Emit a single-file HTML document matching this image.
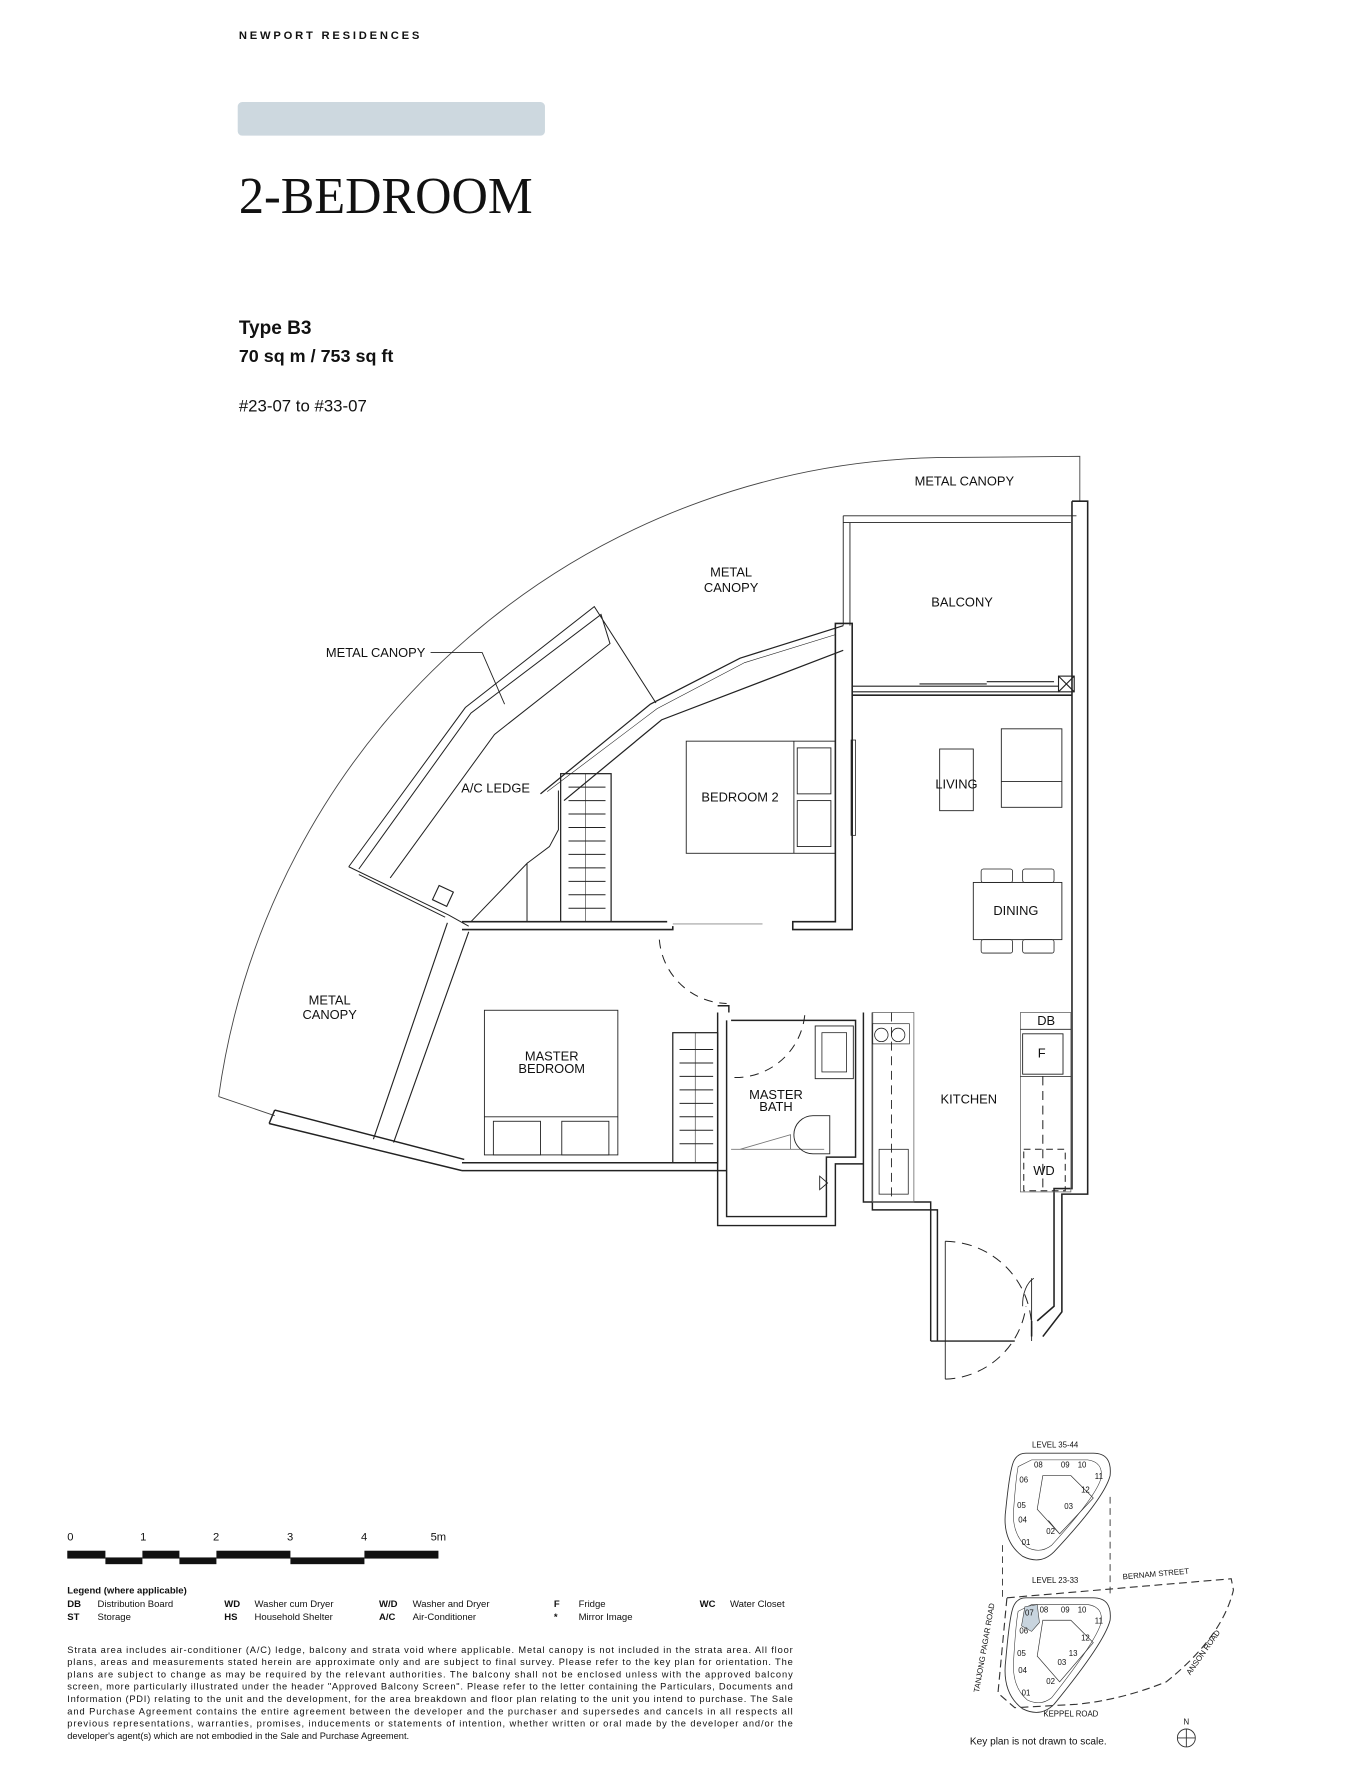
<!DOCTYPE html>
<html><head><meta charset="utf-8"><style>
html,body{margin:0;padding:0;background:#fff;}
svg{display:block;}
text{font-family:"Liberation Sans",sans-serif;fill:#111;}
</style></head><body>
<svg width="1368" height="1766" viewBox="0 0 1220 1575" preserveAspectRatio="none" xmlns="http://www.w3.org/2000/svg">
<text x="213" y="35" font-size="10" font-weight="bold" letter-spacing="2" textLength="163">NEWPORT RESIDENCES</text>
<rect x="212" y="91" width="274" height="30" rx="4" fill="#cdd8df"/>
<text x="213" y="190" style="font-family:'Liberation Serif',serif" font-size="46" textLength="262" lengthAdjust="spacingAndGlyphs">2-BEDROOM</text>
<text x="213" y="298" font-size="17" font-weight="bold">Type B3</text>
<text x="213" y="323" font-size="16" font-weight="bold">70 sq m / 753 sq ft</text>
<text x="213" y="367" font-size="15" fill="#333">#23-07 to #33-07</text>

<g fill="none" stroke="#222" stroke-width="1">
<path d="M195,978 A661,661 0 0 1 850,408 L963,407 L963,447" stroke="#444" stroke-width="0.8"/>
<line x1="195" y1="978" x2="245" y2="995" stroke="#444" stroke-width="0.8"/>
<path d="M752,460 H960 M752,466 H955 M752,460 V558 M758,466 V558" stroke-width="0.8"/>
<rect x="944" y="603" width="14" height="14"/>
<path d="M944,603 L958,617 M958,603 L944,617"/>
<path d="M760,612 H944 M760,617 H944 M820,610 H880 M880,608 H940"/>
<path d="M956,447 H970 V1065 H947 V1170 L930,1192 M956,447 V1060 H940 V1165 L925,1178 M920,1178 V1192" stroke-width="1.4"/>
<path d="M760,620 H956" stroke-width="1.4"/>
<path d="M745,556 V822 H707 V829 H760 V556 Z" stroke-width="1.4"/>
<rect x="759" y="660" width="4" height="85" stroke-width="0.7"/>
<path d="M482,708 L580,628 L660,587 L752,558 M503,714 L590,642 L752,580" stroke-width="1.1"/>
<path d="M488,706 L586,632 L664,591 L745,566" stroke-width="0.5"/>
<path d="M311,773 L415,631 L530,541 L585,627 M320,775 L420,636 L536,548 L544,574 L441,655 L348,783" stroke-width="0.9"/>
<path d="M311,773 L400,816 L418,826 M320,780 L397,818" stroke-width="0.9"/>
<rect x="388" y="792" width="14" height="14" transform="rotate(25 395 799)"/>
<path d="M399,823 L333,1016 M418,831 L351,1019" stroke-width="1"/>
<path d="M245,990 L414,1034 M240,1002 L412,1044 M245,990 L240,1002" stroke-width="1.3"/>
<path d="M412,1037 H640 M412,1044 H648" stroke-width="1.4"/>
<path d="M412,822 H595 M412,829 H600 V826" stroke-width="1.4"/>
<path d="M600,824 H650 M650,824 H680" stroke="#888" stroke-width="0.7"/>
<path d="M420,822 L470,770 L470,822 M470,770 L490,755 L498,740 V705" stroke-width="0.9"/>
<rect x="500" y="690" width="45" height="132" stroke-width="1.1"/>
<line x1="522" y1="690" x2="522" y2="822" stroke-width="0.5"/>
<g stroke-width="0.9"><line x1="507" y1="702" x2="540" y2="702"/><line x1="507" y1="714" x2="540" y2="714"/><line x1="507" y1="726" x2="540" y2="726"/><line x1="507" y1="738" x2="540" y2="738"/><line x1="507" y1="750" x2="540" y2="750"/><line x1="507" y1="762" x2="540" y2="762"/><line x1="507" y1="774" x2="540" y2="774"/><line x1="507" y1="786" x2="540" y2="786"/><line x1="507" y1="798" x2="540" y2="798"/><line x1="507" y1="810" x2="540" y2="810"/></g>
<rect x="612" y="661" width="133" height="100" stroke-width="0.8"/>
<line x1="708" y1="661" x2="708" y2="761" stroke-width="0.8"/>
<rect x="711" y="667" width="30" height="41" stroke-width="0.8"/>
<rect x="711" y="714" width="30" height="41" stroke-width="0.8"/>
<rect x="893" y="650" width="54" height="70" stroke-width="0.8"/>
<line x1="893" y1="697" x2="947" y2="697" stroke-width="0.8"/>
<rect x="838" y="668" width="30" height="55" stroke-width="0.8"/>
<rect x="868" y="787" width="79" height="51" stroke-width="0.8"/>
<rect x="875" y="775" width="28" height="12" rx="2" stroke-width="0.7"/>
<rect x="912" y="775" width="28" height="12" rx="2" stroke-width="0.7"/>
<rect x="875" y="838" width="28" height="12" rx="2" stroke-width="0.7"/>
<rect x="912" y="838" width="28" height="12" rx="2" stroke-width="0.7"/>
<path d="M588,838 A62,62 0 0 0 648,895" stroke-dasharray="8,6" stroke-width="0.9"/>
<rect x="432" y="901" width="119" height="129" stroke-width="0.8"/>
<line x1="432" y1="996" x2="551" y2="996" stroke-width="0.8"/>
<rect x="440" y="1000" width="42" height="30" stroke-width="0.8"/>
<rect x="501" y="1000" width="42" height="30" stroke-width="0.8"/>
<rect x="600" y="921" width="40" height="116" stroke-width="1.1"/>
<line x1="620" y1="921" x2="620" y2="1037" stroke-width="0.5"/>
<g stroke-width="0.9"><line x1="606" y1="936" x2="636" y2="936"/><line x1="606" y1="948" x2="636" y2="948"/><line x1="606" y1="960" x2="636" y2="960"/><line x1="606" y1="972" x2="636" y2="972"/><line x1="606" y1="984" x2="636" y2="984"/><line x1="606" y1="996" x2="636" y2="996"/><line x1="606" y1="1008" x2="636" y2="1008"/><line x1="606" y1="1020" x2="636" y2="1020"/></g>
<path d="M640,903 V1093 H745 V1038 H770 V903 M648,910 V1085 H737 V1032 H763 V910 H652 M640,897 H650 V903 M770,903 V1072 H830 V1196 M778,903 V1079 H836 V1196" stroke-width="1.3"/>
<path d="M652,1025 H735 M660,1025 L705,1012 V1025" stroke="#777" stroke-width="0.8"/>
<rect x="727" y="915" width="34" height="47" stroke-width="0.8"/>
<rect x="733" y="921" width="22" height="35" stroke-width="0.7"/>
<path d="M740,995 H725 A17,17 0 0 0 725,1029 H740 Z" stroke-width="0.8"/>
<path d="M655,961 A62,62 0 0 0 718,900" stroke-dasharray="8,6" stroke-width="0.9"/>
<path d="M731,1049 L738,1055 L731,1061 Z" stroke-width="0.8"/>
<rect x="778" y="903" width="37" height="169" stroke="#666" stroke-width="0.7"/>
<line x1="795" y1="903" x2="795" y2="1072" stroke-dasharray="8,5" stroke-width="0.8"/>
<rect x="778" y="913" width="33" height="18" stroke-width="0.6"/>
<circle cx="786" cy="923" r="6" stroke-width="0.7"/><circle cx="801" cy="923" r="6" stroke-width="0.7"/>
<rect x="784" y="1025" width="26" height="40" stroke-width="0.7"/>
<rect x="910" y="903" width="45" height="160" stroke="#666" stroke-width="0.7"/>
<line x1="910" y1="918" x2="955" y2="918" stroke-width="0.7"/>
<rect x="912" y="922" width="36" height="36" stroke-width="0.8"/>
<line x1="910" y1="960" x2="955" y2="960" stroke-width="0.7"/>
<line x1="930" y1="960" x2="930" y2="1062" stroke-dasharray="8,5" stroke-width="0.9"/>
<rect x="913" y="1025" width="37" height="37" stroke-dasharray="6,4" stroke-width="0.9"/>
<path d="M843,1107 V1230" stroke-width="0.8"/>
<path d="M843,1107 A78,78 0 0 1 920,1185" stroke-dasharray="9,6" stroke-width="0.9"/>
<path d="M843,1230 A75,75 0 0 0 915,1165" stroke-dasharray="9,6" stroke-width="0.9"/>
<path d="M920,1140 V1196 M912,1165 A15,25 0 0 1 922,1140" stroke-width="0.8"/>
<path d="M830,1196 H905" stroke-width="1.2"/>
</g>
<g font-size="11.5" text-anchor="middle" fill="#222">
<text x="860" y="433">METAL CANOPY</text>
<text x="652" y="514">METAL</text><text x="652" y="528">CANOPY</text>
<text x="858" y="541">BALCONY</text>
<text x="335" y="586">METAL CANOPY</text>
<text x="442" y="707">A/C LEDGE</text>
<text x="660" y="715">BEDROOM 2</text>
<text x="853" y="703">LIVING</text>
<text x="906" y="816">DINING</text>
<text x="294" y="896">METAL</text><text x="294" y="909">CANOPY</text>
<text x="492" y="946">MASTER</text><text x="492" y="957">BEDROOM</text>
<text x="692" y="980">MASTER</text><text x="692" y="991">BATH</text>
<text x="864" y="984">KITCHEN</text>
<text x="933" y="914">DB</text>
<text x="929" y="943">F</text>
<text x="931" y="1048">WD</text>
</g>
<path d="M384,582 H430 L450,628" fill="none" stroke="#222" stroke-width="0.8"/>

<g font-size="10" fill="#222">
<text x="60" y="1374">0</text><text x="125" y="1374">1</text><text x="190" y="1374">2</text><text x="256" y="1374">3</text><text x="322" y="1374">4</text><text x="384" y="1374">5m</text>
</g>
<g fill="#111">
<rect x="60" y="1383" width="34" height="7"/><rect x="94" y="1389" width="33" height="6"/>
<rect x="127" y="1383" width="33" height="7"/><rect x="160" y="1389" width="33" height="6"/>
<rect x="193" y="1383" width="66" height="7"/><rect x="259" y="1389" width="66" height="6"/>
<rect x="325" y="1383" width="66" height="7"/>
</g>
<g font-size="8.5" fill="#222">
<text x="60" y="1421" font-weight="bold">Legend (where applicable)</text>
<text x="60" y="1433" font-weight="bold">DB</text><text x="87" y="1433">Distribution Board</text>
<text x="60" y="1445" font-weight="bold">ST</text><text x="87" y="1445">Storage</text>
<text x="200" y="1433" font-weight="bold">WD</text><text x="227" y="1433">Washer cum Dryer</text>
<text x="200" y="1445" font-weight="bold">HS</text><text x="227" y="1445">Household Shelter</text>
<text x="338" y="1433" font-weight="bold">W/D</text><text x="368" y="1433">Washer and Dryer</text>
<text x="338" y="1445" font-weight="bold">A/C</text><text x="368" y="1445">Air-Conditioner</text>
<text x="494" y="1433" font-weight="bold">F</text><text x="516" y="1433">Fridge</text>
<text x="494" y="1445" font-weight="bold">*</text><text x="516" y="1445">Mirror Image</text>
<text x="624" y="1433" font-weight="bold">WC</text><text x="651" y="1433">Water Closet</text>
</g>
<g font-size="8.3" fill="#333">
<text x="60" y="1474" textLength="647" lengthAdjust="spacing">Strata area includes air-conditioner (A/C) ledge, balcony and strata void where applicable. Metal canopy is not included in the strata area. All floor</text>
<text x="60" y="1485" textLength="647" lengthAdjust="spacing">plans, areas and measurements stated herein are approximate only and are subject to final survey. Please refer to the key plan for orientation. The</text>
<text x="60" y="1496" textLength="647" lengthAdjust="spacing">plans are subject to change as may be required by the relevant authorities. The balcony shall not be enclosed unless with the approved balcony</text>
<text x="60" y="1507" textLength="647" lengthAdjust="spacing">screen, more particularly illustrated under the header "Approved Balcony Screen". Please refer to the letter containing the Particulars, Documents and</text>
<text x="60" y="1518" textLength="647" lengthAdjust="spacing">Information (PDI) relating to the unit and the development, for the area breakdown and floor plan relating to the unit you intend to purchase. The Sale</text>
<text x="60" y="1529" textLength="647" lengthAdjust="spacing">and Purchase Agreement contains the entire agreement between the developer and the purchaser and supersedes and cancels in all respects all</text>
<text x="60" y="1540" textLength="647" lengthAdjust="spacing">previous representations, warranties, promises, inducements or statements of intention, whether written or oral made by the developer and/or the</text>
<text x="60" y="1551">developer's agent(s) which are not embodied in the Sale and Purchase Agreement.</text>
</g>

<!-- key plan -->
<g fill="none" stroke="#333" stroke-width="0.8">
<g transform="translate(0,6)">
<path d="M915,1290 H975 Q992,1290 990,1310 Q985,1330 940,1378 Q928,1390 912,1382 Q893,1368 897,1340 Q900,1310 903,1300 Q906,1290 915,1290 Z"/>
<path d="M920,1296 H970 Q984,1298 982,1312 Q978,1328 938,1372 Q928,1380 916,1374 Q902,1362 904,1340 Q906,1312 908,1302 Z" stroke-width="0.5"/>
<path d="M930,1310 L955,1310 L975,1330 L945,1362 L925,1340 Z M945,1362 L935,1350" stroke-width="0.6"/>
</g>
<g transform="translate(0,5)">
<path d="M915,1420 H975 Q992,1420 990,1440 Q985,1460 940,1515 Q928,1527 912,1519 Q893,1505 897,1475 Q900,1440 903,1430 Q906,1420 915,1420 Z"/>
<path d="M920,1426 H970 Q984,1428 982,1442 Q978,1458 938,1509 Q928,1517 916,1511 Q902,1499 904,1475 Q906,1442 908,1432 Z" stroke-width="0.5"/>
<path d="M930,1440 L955,1440 L975,1460 L945,1495 L925,1472 Z" stroke-width="0.6"/>
</g>
<path d="M894,1378 V1425 M990,1335 V1425" stroke-dasharray="6,4"/>
<path d="M898,1425 L1098,1408 L1100,1418 Q1090,1460 1040,1500 Q1000,1516 960,1520 L905,1523 L890,1510 L898,1425" stroke-dasharray="7,4" stroke-width="1"/>
<circle cx="1058" cy="1550" r="8"/>
<path d="M1050,1550 H1066 M1058,1542 V1558"/>
</g>
<path d="M914,1433 L925,1431 L927,1447 L920,1455 L911,1450 Z" fill="#c8d4de" stroke="#333" stroke-width="0.5"/>
<g font-size="7" fill="#333" text-anchor="middle">
<text x="941" y="1291">LEVEL  35-44</text>
<text x="941" y="1412">LEVEL  23-33</text>
<g transform="translate(0,6)">
<text x="926" y="1303">08</text><text x="950" y="1303">09</text><text x="965" y="1303">10</text><text x="980" y="1313">11</text><text x="968" y="1325">12</text><text x="953" y="1340">03</text><text x="937" y="1362">02</text><text x="915" y="1372">01</text><text x="912" y="1352">04</text><text x="911" y="1339">05</text><text x="913" y="1316">06</text>
</g>
<g transform="translate(0,5)">
<text x="918" y="1436">07</text><text x="931" y="1433">08</text><text x="950" y="1433">09</text><text x="965" y="1433">10</text><text x="980" y="1443">11</text><text x="968" y="1458">12</text><text x="957" y="1472">13</text><text x="947" y="1480">03</text><text x="937" y="1497">02</text><text x="915" y="1507">01</text><text x="912" y="1487">04</text><text x="911" y="1472">05</text><text x="913" y="1452">06</text>
</g>
<text x="1031" y="1406" transform="rotate(-5 1031 1406)">BERNAM STREET</text>
<text x="955" y="1531">KEPPEL ROAD</text>
<text x="1075" y="1475" transform="rotate(-55 1075 1475)">ANSON ROAD</text>
<text x="880" y="1470" transform="rotate(-80 880 1470)">TANJONG PAGAR ROAD</text>
<text x="1058" y="1538">N</text>
</g>
<text x="865" y="1556" font-size="9" fill="#222">Key plan is not drawn to scale.</text>
</svg>
</body></html>
